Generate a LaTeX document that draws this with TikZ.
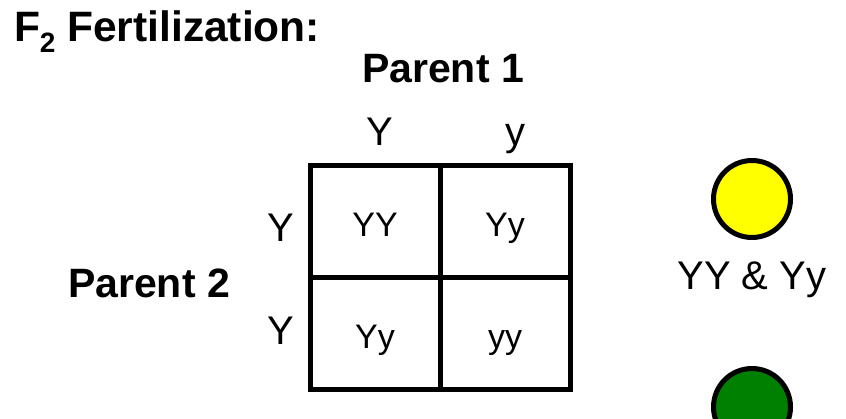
\documentclass[tikz,border=0pt]{standalone}
\usepackage{fontspec}
\setmainfont{Liberation Sans}
\begin{document}
\begin{tikzpicture}[x=1pt,y=-1pt,
  every node/.style={inner sep=0pt,outer sep=0pt},
  heading/.style={font=\fontsize{41}{41}\selectfont\bfseries,anchor=base},
  allele/.style={font=\fontsize{40}{40}\selectfont,anchor=base},
  cell/.style={draw,line width=5pt,minimum width=130pt,minimum height=112pt,
    text height=30pt,text depth=0pt,font=\fontsize{34}{34}\selectfont},
  pea/.style={circle,draw,line width=5pt,minimum size=77pt}]
  \useasboundingbox (0,0) rectangle (846,419);

  % title
  \node[anchor=base west,font=\fontsize{42.5}{42.5}\selectfont\bfseries] (title) at (14,42)
    {F\raisebox{-11pt}{\fontsize{28}{28}\selectfont 2} Fertilization:};

  % parents
  \node[heading] (p1) at (443,83) {Parent 1};
  \node[heading] (p2) at (149,298) {Parent 2};

  % gametes
  \node[allele] (g1) at (380,146) {Y};
  \node[allele] (g2) at (515,146) {y};
  \node[allele] (g3) at (281,242) {Y};
  \node[allele] (g4) at (281,345) {Y};

  % Punnett square
  \node[cell] (c11) at (375,222) {YY};
  \node[cell] (c12) at (505,222) {Yy};
  \node[cell] (c21) at (375,334) {Yy};
  \node[cell] (c22) at (505,334) {yy};

  % phenotypes
  \node[pea,fill={rgb,255:red,255;green,255;blue,0}] (yellow) at (752,199) {};
  \node[allele] (ylab) at (752,290) {YY \& Yy};
  \node[pea,fill={rgb,255:red,0;green,128;blue,0}] (green) at (752,407) {};
\end{tikzpicture}
\end{document}
